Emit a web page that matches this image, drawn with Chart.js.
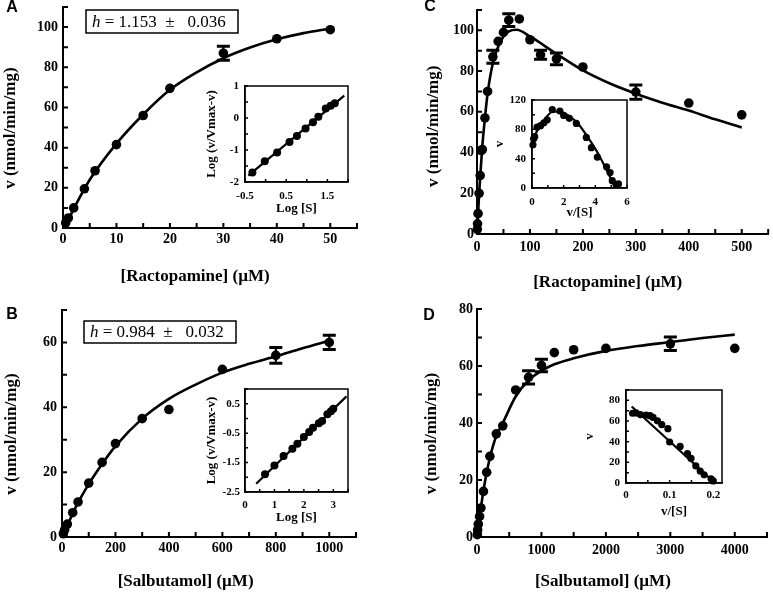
<!DOCTYPE html>
<html><head><meta charset="utf-8">
<script src="https://cdn.jsdelivr.net/npm/chart.js@4.4.1/dist/chart.umd.min.js"></script>
<style>
html,body{margin:0;padding:0;background:#fff;}
#wrap{position:relative;width:773px;height:592px;overflow:hidden;background:#fff;}
canvas{position:absolute;}
</style></head><body>
<div id="wrap">
<canvas id="cA"></canvas><canvas id="cB"></canvas><canvas id="cC"></canvas><canvas id="cD"></canvas>
<canvas id="iA"></canvas><canvas id="iB"></canvas><canvas id="iC"></canvas><canvas id="iD"></canvas>
</div>
<script>
// ---------- Panel A : Ractopamine (0-50 uM) ----------
const aConc = [0.5, 1, 2, 4, 6, 10, 15, 20, 30, 40, 50];
const aRate = [2.5, 5, 10, 19.5, 28.5, 41.5, 56, 69.5, 87, 94.2, 98.7];
const aErr  = [0, 0, 0, 0, 0, 0, 0, 0, 3.5, 0, 0];
const aFitX = [0, 1, 2, 5, 10, 15, 20, 25, 30, 35, 40, 45, 50];
const aFitY = [0, 4.2, 9.5, 24, 42, 56.5, 68.8, 77.5, 84.5, 89.8, 93.9, 97, 99.3];
const aHillX = [-0.32, -0.02, 0.28, 0.58, 0.76, 0.97, 1.15, 1.28, 1.46, 1.58, 1.68];
const aHillY = [-1.7, -1.35, -1.08, -0.75, -0.56, -0.33, -0.13, 0.04, 0.3, 0.38, 0.46];
const aHillLineX = [-0.42, 1.91];
const aHillLineY = [-1.8, 0.7];

// ---------- Panel B : Salbutamol (0-1000 uM) ----------
const bConc = [5, 10, 20, 40, 60, 100, 150, 200, 300, 400, 600, 800, 1000];
const bRate = [1, 2.2, 4, 7.5, 10.8, 16.6, 23, 28.8, 36.5, 39.3, 51.7, 56, 60];
const bErr  = [0, 0, 0, 0, 0, 0, 0, 0, 0, 0, 0, 2.4, 2.2];
const bFitX = [0, 25, 50, 100, 150, 200, 300, 400, 500, 600, 700, 800, 900, 1000];
const bFitY = [0, 4.5, 9, 16.3, 22.5, 28, 36.5, 42.6, 47, 50.7, 53.4, 55.7, 58.2, 60.5];
const bHillX = [0.68, 1.0, 1.31, 1.61, 1.78, 2.0, 2.18, 2.31, 2.51, 2.62, 2.8, 2.92, 3.0];
const bHillY = [-1.9, -1.6, -1.28, -1.03, -0.86, -0.63, -0.46, -0.32, -0.16, -0.09, 0.14, 0.24, 0.33];
const bHillLineX = [0.38, 3.45];
const bHillLineY = [-2.22, 0.75];

// ---------- Panel C : Ractopamine (0-500 uM) ----------
const cConc = [0.5, 1, 2, 4, 6, 8, 10, 15, 20, 30, 40, 50, 60, 80, 100, 120, 150, 200, 300, 400, 500];
const cRate = [2.3, 5, 10, 20, 28.7, 41, 41.5, 57, 70, 87, 94.6, 99, 105, 105.6, 95.4, 88, 86, 82, 69.7, 64.3, 58.5];
const cErr  = [0, 0, 0, 0, 0, 0, 0, 0, 0, 3.2, 0, 0, 3.1, 0, 0, 2.2, 2.9, 0, 3.5, 0, 0];
const cFitX = [0, 2, 5, 10, 15, 20, 30, 40, 50, 60, 75, 100, 150, 200, 250, 300, 350, 400, 450, 500];
const cFitY = [0, 10, 24, 43, 57, 69, 84, 92, 97, 99.5, 100.3, 97, 88.5, 80.3, 74, 68.9, 64.5, 60.6, 56.3, 52.3];
const cEhX = [0.06, 0.1, 0.17, 0.32, 0.54, 0.75, 0.96, 1.28, 1.76, 2.0, 2.36, 2.8, 3.43, 3.75, 4.13, 4.71, 4.93, 5.07, 5.3, 5.46];
const cEhY = [59, 67, 70, 83, 85, 89, 93, 107, 105, 99, 95, 88, 69, 55, 42, 29, 21, 10, 5, 5.5];
const cEhFitX = [0, 0.3, 0.75, 1.3, 1.8, 2.35, 2.9, 3.5, 4.2, 4.7, 5.1, 5.3];
const cEhFitY = [60, 77, 92, 104, 104, 98, 88, 70, 46, 25, 8, 1];

// ---------- Panel D : Salbutamol (0-4000 uM) ----------
const dConc = [5, 10, 20, 40, 60, 100, 150, 200, 300, 400, 600, 800, 1000, 1200, 1500, 2000, 3000, 4000];
const dRate = [0.8, 2.5, 4.5, 7.2, 10.2, 16, 22.7, 28.3, 36.2, 39, 51.6, 56, 60.2, 64.7, 65.7, 66.2, 67.8, 66.2];
const dErr  = [0, 0, 0, 0, 0, 0, 0, 0, 0, 0, 0, 2.35, 2.2, 0, 0, 0, 2.35, 0];
const dFitX = [0, 50, 100, 150, 200, 300, 400, 600, 800, 1000, 1200, 1500, 2000, 2500, 3000, 3500, 4000];
const dFitY = [0, 8.5, 16.3, 22.5, 27.8, 35.5, 40, 49.3, 55, 58.3, 60.6, 62.7, 65.3, 67, 68.4, 69.8, 71];
const dEhX = [0.015, 0.023, 0.033, 0.046, 0.055, 0.062, 0.072, 0.082, 0.096, 0.1, 0.124, 0.141, 0.149, 0.16, 0.17, 0.179, 0.195, 0.2];
const dEhY = [67.5, 67.8, 66.2, 65.8, 65.2, 63.5, 60.2, 56.5, 52.6, 39.7, 35.4, 28.4, 23.8, 16.5, 11.6, 7.9, 4, 2];
const dEhLineX = [0.013, 0.204];
const dEhLineY = [74, 0];

// ---------- tick labels ----------
const aXLabels = ['0', '10', '20', '30', '40', '50'];
const aYLabels = ['0', '20', '40', '60', '80', '100'];
const bXLabels = ['0', '200', '400', '600', '800', '1000'];
const bYLabels = ['0', '20', '40', '60'];
const cXLabels = ['0', '100', '200', '300', '400', '500'];
const cYLabels = ['0', '20', '40', '60', '80', '100'];
const dXLabels = ['0', '1000', '2000', '3000', '4000'];
const dYLabels = ['0', '20', '40', '60', '80'];
const iaXLabels = ['-0.5', '0.5', '1.5'];
const iaYLabels = ['-2', '-1', '0', '1'];
const ibXLabels = ['0', '1', '2', '3'];
const ibYLabels = ['-2.5', '-1.5', '-0.5', '0.5'];
const icXLabels = ['0', '2', '4', '6'];
const icYLabels = ['0', '40', '80', '120'];
const idXLabels = ['0', '0.1', '0.2'];
const idYLabels = ['0', '20', '40', '60', '80'];

// ---------- helpers ----------
const SERIF = "'Liberation Serif','Times New Roman',serif";
const SANS = "'Liberation Sans',Arial,sans-serif";
const LH = 1.2;
const fmt = v => String(Math.round(v * 1000) / 1000);
const pts = (xs, ys) => xs.map((x, i) => ({x: x, y: ys[i]}));

function dots(xs, ys, r, errs) {
  return {data: pts(xs, ys), pointRadius: r, pointHoverRadius: r, pointBackgroundColor: '#000',
    pointBorderWidth: 0, showLine: false, clip: false, errors: errs || null};
}
function curve(xs, ys, w, straight) {
  return {data: pts(xs, ys), showLine: true, pointRadius: 0, pointHoverRadius: 0, borderColor: '#000',
    borderWidth: w, fill: false, clip: false, cubicInterpolationMode: straight ? 'default' : 'monotone', tension: 0};
}

const inTicks = {id: 'inTicks', afterDraw(chart, args, o) {
  const ctx = chart.ctx, a = chart.chartArea, xs = chart.scales.x, ys = chart.scales.y;
  ctx.save(); ctx.strokeStyle = '#000'; ctx.lineWidth = o.width; ctx.beginPath();
  xs.ticks.forEach(t => { const p = xs.getPixelForValue(t.value); ctx.moveTo(p, a.bottom); ctx.lineTo(p, a.bottom - o.len); });
  ys.ticks.forEach(t => { const p = ys.getPixelForValue(t.value); ctx.moveTo(a.left, p); ctx.lineTo(a.left + o.len, p); });
  ctx.stroke(); ctx.restore();
}};
const frame = {id: 'frame', afterDraw(chart, args, o) {
  if (!o.on) return;
  const ctx = chart.ctx, a = chart.chartArea;
  ctx.save(); ctx.strokeStyle = '#000'; ctx.lineWidth = o.width;
  ctx.strokeRect(a.left, a.top, a.right - a.left, a.bottom - a.top); ctx.restore();
}};
const errBars = {id: 'errBars', afterDatasetsDraw(chart) {
  const ctx = chart.ctx, xs = chart.scales.x, ys = chart.scales.y;
  ctx.save(); ctx.strokeStyle = '#000';
  chart.data.datasets.forEach(ds => {
    if (!ds.errors) return;
    ds.data.forEach((p, i) => {
      const e = ds.errors[i]; if (!e) return;
      const px = xs.getPixelForValue(p.x), y1 = ys.getPixelForValue(p.y + e), y2 = ys.getPixelForValue(p.y - e);
      ctx.lineWidth = 2.2; ctx.beginPath(); ctx.moveTo(px, y1); ctx.lineTo(px, y2); ctx.stroke();
      ctx.lineWidth = 3; ctx.beginPath();
      ctx.moveTo(px - 6.5, y1); ctx.lineTo(px + 6.5, y1); ctx.moveTo(px - 6.5, y2); ctx.lineTo(px + 6.5, y2); ctx.stroke();
    });
  });
  ctx.restore();
}};
const panelText = {id: 'panelText', afterDraw(chart, args, o) {
  const ctx = chart.ctx; ctx.save(); ctx.fillStyle = '#000';
  if (o.letter) {
    ctx.font = 'bold 16px ' + SANS; ctx.textAlign = 'center'; ctx.textBaseline = 'middle';
    ctx.fillText(o.letter.t, o.letter.x, o.letter.y);
  }
  if (o.box) {
    const b = o.box;
    ctx.strokeStyle = '#000'; ctx.lineWidth = 1.5; ctx.strokeRect(b.x, b.y, b.w, b.h);
    ctx.textAlign = 'left'; ctx.textBaseline = 'middle';
    const cy = b.y + b.h / 2 + 1;
    ctx.font = 'italic 17px ' + SERIF; ctx.fillText(b.it, b.x + 6, cy);
    const w = ctx.measureText(b.it).width;
    ctx.font = '17px ' + SERIF; ctx.fillText(b.rest, b.x + 6 + w, cy);
  }
  ctx.restore();
}};

function axis(o) {
  return {
    type: 'linear', min: o.min, max: o.max,
    grid: {display: false, drawTicks: false},
    border: {display: true, color: '#000', width: o.bw},
    ticks: {stepSize: o.step, autoSkip: false, includeBounds: false, maxRotation: 0, minRotation: 0,
      padding: o.tickPad, color: '#000', font: {family: SERIF, size: o.tickSize, weight: 'bold'},
      callback: v => { const s = fmt(v); return o.labels.includes(s) ? s : ''; }},
    title: {display: true, text: o.title, color: '#000', font: {family: SERIF, size: o.titleSize, weight: 'bold'},
      padding: o.titlePad},
    afterFit: s => {
      if (o.horizontal) s.height = o.size; else s.width = o.size;
      s.paddingTop = 0; s.paddingBottom = 0; s.paddingLeft = 0; s.paddingRight = 0;
    }
  };
}

function build(id, P) {
  const cv = document.getElementById(id);
  cv.width = P.cw; cv.height = P.ch; cv.style.left = P.cl + 'px'; cv.style.top = P.ct + 'px';
  const A = P.area;
  const yW = A.l - P.cl, xH = P.ct + P.ch - A.b;
  const xTickPad = P.xLabelY - A.b - P.tickSize * LH / 2;
  const xTitlePadB = Math.max(0, P.ct + P.ch - P.xTitleY - P.titleSize * LH / 2);
  const yTickPad = A.l - P.yLabelR;
  const yTitlePadT = Math.max(0, P.yTitleX - P.cl - P.titleSize * LH / 2);
  new Chart(cv, {
    type: 'scatter',
    data: {datasets: P.datasets},
    options: {
      responsive: false, animation: false, devicePixelRatio: 1, events: [],
      layout: {padding: {left: 0, top: A.t - P.ct, right: P.cl + P.cw - A.r, bottom: 0}},
      plugins: {legend: {display: false}, tooltip: {enabled: false},
        inTicks: {len: P.tickLen, width: P.tickW}, frame: {on: !!P.frame, width: P.bw},
        panelText: P.panel || {}},
      scales: {
        x: axis({min: P.x.min, max: P.x.max, step: P.x.step, labels: P.x.labels, title: P.x.title,
          tickSize: P.tickSize, titleSize: P.titleSize, tickPad: xTickPad, titlePad: {top: 0, bottom: xTitlePadB},
          size: xH, horizontal: true, bw: P.bw}),
        y: axis({min: P.y.min, max: P.y.max, step: P.y.step, labels: P.y.labels, title: P.y.title,
          tickSize: P.tickSize, titleSize: P.titleSize, tickPad: yTickPad, titlePad: {top: yTitlePadT, bottom: 0},
          size: yW, horizontal: false, bw: P.bw})
      }
    },
    plugins: [inTicks, frame, errBars, panelText]
  });
}

const MAIN = {tickSize: 14, titleSize: 17, tickLen: 5, tickW: 2, bw: 2};
const INSET = {tickSize: 11, titleSize: 13, tickLen: 3, tickW: 1.5, bw: 1.5, frame: true};
const yMainTitle = 'v (nmol/min/mg)     ';

build('cA', Object.assign({}, MAIN, {
  cl: 0, ct: 0, cw: 386, ch: 296, area: {l: 63, r: 357, t: 7, b: 228},
  xLabelY: 239, xTitleY: 277, yLabelR: 58, yTitleX: 11,
  x: {min: 0, max: 55, step: 5, labels: aXLabels, title: '[Ractopamine] (\u00b5M)       '},
  y: {min: 0, max: 110, step: 10, labels: aYLabels, title: yMainTitle},
  panel: {letter: {t: 'A', x: 12, y: 8}, box: {x: 86, y: 10, w: 152, h: 23, it: 'h', rest: ' = 1.153  \u00b1   0.036'}},
  datasets: [dots(aConc, aRate, 4.8, aErr), curve(aFitX, aFitY, 2.6)]
}));
build('cB', Object.assign({}, MAIN, {
  cl: 0, ct: 296, cw: 386, ch: 296, area: {l: 62, r: 356, t: 310, b: 537},
  xLabelY: 548, xTitleY: 583, yLabelR: 57, yTitleX: 12,
  x: {min: 0, max: 1100, step: 100, labels: bXLabels, title: '[Salbutamol] (\u00b5M)           '},
  y: {min: 0, max: 70, step: 10, labels: bYLabels, title: yMainTitle},
  panel: {letter: {t: 'B', x: 12, y: 19}, box: {x: 84, y: 25, w: 152, h: 22, it: 'h', rest: ' = 0.984  \u00b1   0.032'}},
  datasets: [dots(bConc, bRate, 4.8, bErr), curve(bFitX, bFitY, 2.6)]
}));
build('cC', Object.assign({}, MAIN, {
  cl: 386, ct: 0, cw: 387, ch: 296, area: {l: 477, r: 772, t: 10, b: 234},
  xLabelY: 247, xTitleY: 283, yLabelR: 474, yTitleX: 434,
  x: {min: 0, max: 550, step: 50, labels: cXLabels, title: '[Ractopamine] (\u00b5M)       '},
  y: {min: 0, max: 110, step: 10, labels: cYLabels, title: 'v (nmol/min/mg)  '},
  panel: {letter: {t: 'C', x: 44, y: 7}},
  datasets: [dots(cConc, cRate, 4.8, cErr), curve(cFitX, cFitY, 2.6)]
}));
build('cD', Object.assign({}, MAIN, {
  cl: 386, ct: 296, cw: 387, ch: 296, area: {l: 477, r: 767, t: 309, b: 537},
  xLabelY: 550, xTitleY: 583, yLabelR: 473, yTitleX: 432,
  x: {min: 0, max: 4500, step: 500, labels: dXLabels, title: '[Salbutamol] (\u00b5M)         '},
  y: {min: 0, max: 80, step: 10, labels: dYLabels, title: yMainTitle},
  panel: {letter: {t: 'D', x: 43, y: 20}},
  datasets: [dots(dConc, dRate, 4.8, dErr), curve(dFitX, dFitY, 2.6)]
}));

build('iA', Object.assign({}, INSET, {
  cl: 190, ct: 80, cw: 165, ch: 145, area: {l: 245, r: 348, t: 86, b: 182},
  xLabelY: 196, xTitleY: 209, yLabelR: 239, yTitleX: 212,
  x: {min: -0.5, max: 2, step: 0.5, labels: iaXLabels, title: 'Log [S]'},
  y: {min: -2, max: 1, step: 0.5, labels: iaYLabels, title: 'Log (v/Vmax-v)'},
  datasets: [dots(aHillX, aHillY, 4), curve(aHillLineX, aHillLineY, 2.2, true)]
}));
build('iB', Object.assign({}, INSET, {
  cl: 190, ct: 383, cw: 165, ch: 145, area: {l: 245, r: 348, t: 389, b: 492},
  xLabelY: 505, xTitleY: 518, yLabelR: 240, yTitleX: 212,
  x: {min: 0, max: 3.5, step: 0.5, labels: ibXLabels, title: 'Log [S]'},
  y: {min: -2.5, max: 1, step: 0.5, labels: ibYLabels, title: 'Log (v/Vmax-v)'},
  datasets: [dots(bHillX, bHillY, 4), curve(bHillLineX, bHillLineY, 2.2, true)]
}));
build('iC', Object.assign({}, INSET, {
  cl: 480, ct: 95, cw: 152, ch: 130, area: {l: 532, r: 627, t: 100, b: 188},
  xLabelY: 202, xTitleY: 213, yLabelR: 526, yTitleX: 500,
  x: {min: 0, max: 6, step: 1, labels: icXLabels, title: 'v/[S]'},
  y: {min: 0, max: 120, step: 20, labels: icYLabels, title: 'v'},
  datasets: [dots(cEhX, cEhY, 3.6), curve(cEhFitX, cEhFitY, 2.2)]
}));
build('iD', Object.assign({}, INSET, {
  cl: 570, ct: 385, cw: 160, ch: 140, area: {l: 626, r: 722, t: 390, b: 483},
  xLabelY: 495, xTitleY: 512, yLabelR: 620, yTitleX: 590,
  x: {min: 0, max: 0.22, step: 0.05, labels: idXLabels, title: 'v/[S]'},
  y: {min: 0, max: 90, step: 10, labels: idYLabels, title: 'v'},
  datasets: [dots(dEhX, dEhY, 3.6), curve(dEhLineX, dEhLineY, 2.2, true)]
}));
</script>
</body></html>
